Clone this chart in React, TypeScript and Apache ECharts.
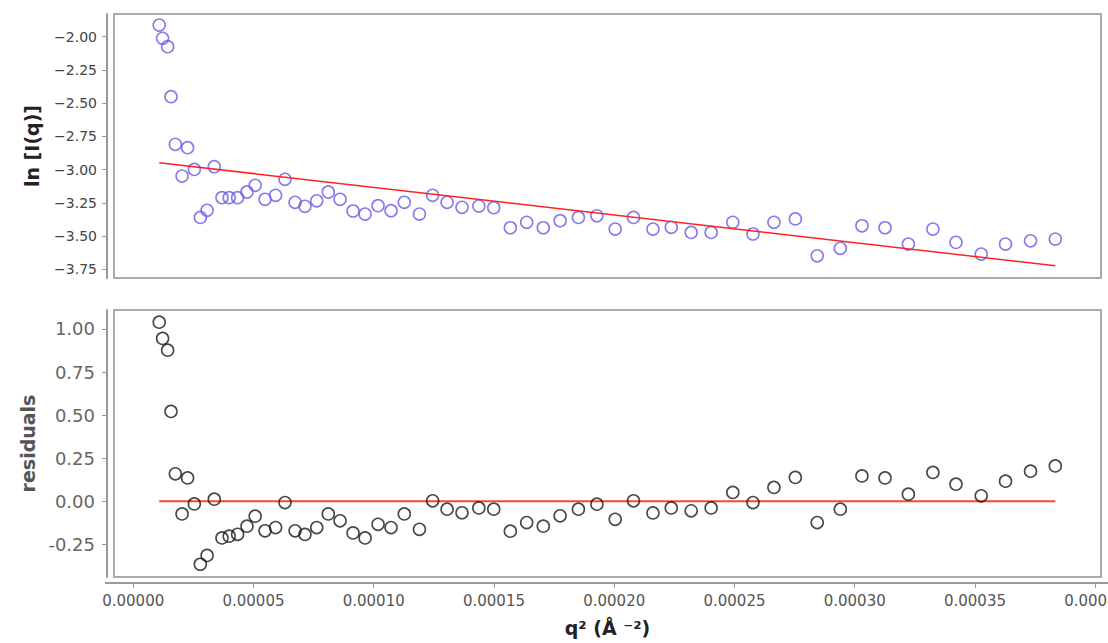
import React, { useEffect, useRef } from "react";
import * as echarts from "echarts";

// q^2 values (Å^-2), shared by both panels
const Q2 = [
  1.08e-5, 1.22e-5, 1.43e-5, 1.57e-5, 1.75e-5, 2.03e-5, 2.26e-5, 2.54e-5, 2.79e-5, 3.07e-5,
  3.37e-5, 3.69e-5, 3.99e-5, 4.34e-5, 4.73e-5, 5.07e-5, 5.48e-5, 5.92e-5, 6.31e-5, 6.73e-5,
  7.14e-5, 7.63e-5, 8.11e-5, 8.6e-5, 9.14e-5, 9.64e-5, 10.18e-5, 10.72e-5, 11.27e-5, 11.9e-5,
  12.45e-5, 13.05e-5, 13.67e-5, 14.37e-5, 14.99e-5, 15.68e-5, 16.36e-5, 17.05e-5, 17.75e-5, 18.51e-5,
  19.28e-5, 20.04e-5, 20.8e-5, 21.61e-5, 22.37e-5, 23.2e-5, 24.03e-5, 24.93e-5, 25.77e-5, 26.64e-5,
  27.53e-5, 28.44e-5, 29.4e-5, 30.3e-5, 31.26e-5, 32.23e-5, 33.25e-5, 34.21e-5, 35.26e-5, 36.27e-5,
  37.31e-5, 38.34e-5,
];

// ln[I(q)] values
const LN_I = [
  -1.912, -2.012, -2.075, -2.451, -2.809, -3.048, -2.835, -2.998, -3.359, -3.306,
  -2.978, -3.211, -3.211, -3.211, -3.168, -3.118, -3.223, -3.193, -3.073, -3.246,
  -3.276, -3.234, -3.168, -3.223, -3.311, -3.334, -3.271, -3.309, -3.246, -3.334,
  -3.193, -3.246, -3.283, -3.274, -3.286, -3.437, -3.396, -3.437, -3.384, -3.359,
  -3.347, -3.447, -3.359, -3.447, -3.434, -3.472, -3.472, -3.396, -3.484, -3.396,
  -3.371, -3.648, -3.592, -3.422, -3.437, -3.56, -3.447, -3.547, -3.635, -3.56,
  -3.535, -3.522,
];

// residuals
const RESID = [
  1.039, 0.945, 0.877, 0.521, 0.159, -0.074, 0.135, -0.016, -0.366, -0.315,
  0.012, -0.213, -0.203, -0.192, -0.145, -0.087, -0.172, -0.153, -0.008, -0.172,
  -0.193, -0.153, -0.074, -0.114, -0.184, -0.213, -0.134, -0.153, -0.074, -0.163,
  0.002, -0.046, -0.067, -0.039, -0.046, -0.174, -0.124, -0.145, -0.085, -0.046,
  -0.017, -0.105, 0.002, -0.068, -0.039, -0.056, -0.039, 0.051, -0.008, 0.08,
  0.138, -0.124, -0.046, 0.147, 0.135, 0.041, 0.167, 0.099, 0.031, 0.116,
  0.174, 0.205,
];

// linear fit line endpoints
const FIT_X = [1.08e-5, 38.34e-5];
const FIT_Y = [-2.948, -3.723];
const ZERO_Y = [0, 0];

// tick labels
const X_TICKS = [0, 0.00005, 0.0001, 0.00015, 0.0002, 0.00025, 0.0003, 0.00035, 0.0004];
const TOP_Y_TICKS = [-3.75, -3.5, -3.25, -3.0, -2.75, -2.5, -2.25, -2.0];
const BOT_Y_TICKS = [-0.25, 0, 0.25, 0.5, 0.75, 1.0];

const FONT = "DejaVu Sans";

export default function App() {
  const ref = useRef<HTMLDivElement>(null);
  useEffect(() => {
    if (!ref.current) return;
    const chart = echarts.init(ref.current, null, { renderer: "svg" });
    const xMin = -0.000008;
    const xMax = 0.0004024;
    const option: any = {
      animation: false,
      backgroundColor: "#ffffff",
      grid: [
        { left: 114, top: 14, width: 987, height: 264, show: true, borderColor: "#aaaaaa", borderWidth: 2, backgroundColor: "transparent", containLabel: false, outerBoundsMode: "none" },
        { left: 114, top: 310, width: 987, height: 267, show: true, borderColor: "#aaaaaa", borderWidth: 2, backgroundColor: "transparent", containLabel: false, outerBoundsMode: "none" },
      ],
      graphic: [
        { type: "line", shape: { x1: 105, y1: 583, x2: 1108, y2: 583 }, style: { stroke: "#999999", lineWidth: 2 }, z: 10 },
      ],
      xAxis: [
        { type: "value", gridIndex: 0, min: xMin, max: xMax, show: false, splitLine: { show: false } },
        {
          type: "value",
          gridIndex: 1,
          min: xMin,
          max: xMax,
          offset: 6,
          splitLine: { show: false },
          axisLine: { show: true, onZero: false, lineStyle: { color: "#999999", width: 2 } },
          axisTick: { show: true, length: 5, lineStyle: { color: "#999999", width: 1 }, customValues: X_TICKS },
          axisLabel: {
            customValues: X_TICKS,
            margin: 10,
            color: "#555555",
            fontFamily: FONT,
            fontSize: 15,
            formatter: (v: number) => v.toFixed(5),
          },
          name: "q\u00b2 (\u00c5 \u207b\u00b2)",
          nameLocation: "middle",
          nameGap: 35,
          nameTextStyle: { fontFamily: FONT, fontSize: 19, fontWeight: "bold", color: "#222222" },
        },
      ],
      yAxis: [
        {
          type: "value",
          gridIndex: 0,
          min: -3.815,
          max: -1.829,
          offset: 7,
          splitLine: { show: false },
          axisLine: { show: true, onZero: false, lineStyle: { color: "#999999", width: 2 } },
          axisTick: { show: true, length: 5, lineStyle: { color: "#999999", width: 1 }, customValues: TOP_Y_TICKS },
          axisLabel: {
            customValues: TOP_Y_TICKS,
            margin: 10,
            color: "#444444",
            fontFamily: FONT,
            fontSize: 14,
            formatter: (v: number) => v.toFixed(2).replace("-", "\u2212"),
          },
          name: "ln [I(q)]",
          nameLocation: "middle",
          nameRotate: 90,
          nameGap: 66,
          nameTextStyle: { fontFamily: FONT, fontSize: 19, fontWeight: "bold", color: "#222222" },
        },
        {
          type: "value",
          gridIndex: 1,
          min: -0.44,
          max: 1.11,
          offset: 7,
          splitLine: { show: false },
          axisLine: { show: true, onZero: false, lineStyle: { color: "#999999", width: 2 } },
          axisTick: { show: true, length: 5, lineStyle: { color: "#999999", width: 1 }, customValues: BOT_Y_TICKS },
          axisLabel: {
            customValues: BOT_Y_TICKS,
            margin: 12,
            color: "#666666",
            fontFamily: FONT,
            fontSize: 18,
            formatter: (v: number) => v.toFixed(2),
          },
          name: "residuals",
          nameLocation: "middle",
          nameRotate: 90,
          nameGap: 70,
          nameTextStyle: { fontFamily: FONT, fontSize: 19, fontWeight: "bold", color: "#555555" },
        },
      ],
      series: [
        {
          type: "line",
          xAxisIndex: 0,
          yAxisIndex: 0,
          data: FIT_X.map((x, i) => [x, FIT_Y[i]]),
          showSymbol: false,
          lineStyle: { color: "#ff2222", width: 1.5 },
          z: 3,
        },
        {
          type: "scatter",
          xAxisIndex: 0,
          yAxisIndex: 0,
          data: Q2.map((x, i) => [x, LN_I[i]]),
          symbol: "circle",
          symbolSize: 12,
          itemStyle: { color: "rgba(0,0,0,0)", borderColor: "#6a5be6", borderWidth: 1.6 },
          z: 2,
        },
        {
          type: "line",
          xAxisIndex: 1,
          yAxisIndex: 1,
          data: [
            [FIT_X[0], ZERO_Y[0]],
            [FIT_X[1], ZERO_Y[1]],
          ],
          showSymbol: false,
          lineStyle: { color: "#ff4530", width: 2 },
          z: 2,
        },
        {
          type: "scatter",
          xAxisIndex: 1,
          yAxisIndex: 1,
          data: Q2.map((x, i) => [x, RESID[i]]),
          symbol: "circle",
          symbolSize: 12,
          itemStyle: { color: "rgba(0,0,0,0)", borderColor: "#1a1a1a", borderWidth: 1.6 },
          z: 3,
        },
      ],
    };
    chart.setOption(option);
    return () => chart.dispose();
  }, []);
  return (
    <div
      ref={ref}
      style={{ position: "fixed", left: 0, top: 0, width: 1108, height: 643, background: "#fff" }}
    />
  );
}
